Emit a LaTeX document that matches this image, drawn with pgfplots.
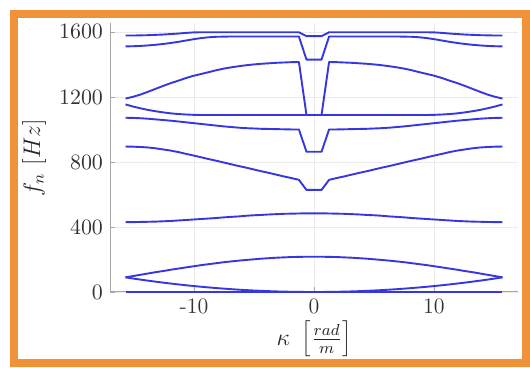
\documentclass[border=0pt]{standalone}
\usepackage{pgfplots}
\usepackage{pgfplotstable}
\pgfplotsset{compat=1.18}

\definecolor{framecol}{RGB}{240,146,58}
\definecolor{branch}{RGB}{55,55,225}

% Dispersion branches f_n(kappa), kappa in [-5pi, 5pi]
\pgfplotstableread{
kappa    a0  a1    a2   a3   a4   a5    a6    a7    a8    a9
-15.708  0   90.0  90   430  895  1072  1154  1190  1511  1578
-15.080  0   83.0  98   430  894  1071  1141  1201  1512  1578
-14.451  0   76.2  106  431  892  1069  1130  1215  1514  1579
-13.823  0   69.7  114  432  889  1066  1120  1232  1517  1580
-13.195  0   63.5  122  433  884  1062  1112  1250  1521  1582
-12.566  0   57.6  129  435  877  1058  1105  1268  1526  1584
-11.938  0   52.0  137  437  870  1054  1099  1285  1532  1587
-11.310  0   46.7  144  440  861  1049  1095  1300  1539  1590
-10.681  0   41.6  151  443  850  1044  1092  1316  1547  1594
-10.053  0   36.9  158  446  840  1039  1090  1330  1555  1597
-9.425   0   32.4  165  449  829  1034  1089  1341  1562  1598
-8.796   0   28.2  171  452  818  1029  1089  1352  1567  1598
-8.168   0   24.4  177  455  808  1024  1089  1364  1570  1598
-7.540   0   20.8  183  459  797  1019  1089  1374  1571  1598
-6.912   0   17.4  188  462  786  1015  1089  1382  1572  1598
-6.283   0   14.4  193  465  775  1011  1089  1389  1572  1598
-5.655   0   11.7  197  469  765  1008  1089  1395  1572  1598
-5.027   0   9.2   201  472  754  1006  1089  1400  1572  1598
-4.398   0   7.1   205  474  743  1004  1089  1404  1572  1598
-3.770   0   5.2   208  477  733  1003  1089  1407  1572  1598
-3.142   0   3.6   211  479  722  1002  1089  1410  1572  1598
-2.513   0   2.3   213  481  711  1001  1089  1412  1572  1598
-1.885   0   1.3   215  482  701  1000  1089  1414  1572  1598
-1.257   0   0.6   216  483  690  1000  1089  1415  1572  1598
-0.628   0   0.1   217  484  628  863   1089  1089  1430  1574
0.000    0   0.0   217  484  628  863   1089  1089  1430  1574
0.628    0   0.1   217  484  628  863   1089  1089  1430  1574
1.257    0   0.6   216  483  690  1000  1089  1415  1572  1598
1.885    0   1.3   215  482  701  1000  1089  1414  1572  1598
2.513    0   2.3   213  481  711  1001  1089  1412  1572  1598
3.142    0   3.6   211  479  722  1002  1089  1410  1572  1598
3.770    0   5.2   208  477  733  1003  1089  1407  1572  1598
4.398    0   7.1   205  474  743  1004  1089  1404  1572  1598
5.027    0   9.2   201  472  754  1006  1089  1400  1572  1598
5.655    0   11.7  197  469  765  1008  1089  1395  1572  1598
6.283    0   14.4  193  465  775  1011  1089  1389  1572  1598
6.912    0   17.4  188  462  786  1015  1089  1382  1572  1598
7.540    0   20.8  183  459  797  1019  1089  1374  1571  1598
8.168    0   24.4  177  455  808  1024  1089  1364  1570  1598
8.796    0   28.2  171  452  818  1029  1089  1352  1567  1598
9.425    0   32.4  165  449  829  1034  1089  1341  1562  1598
10.053   0   36.9  158  446  840  1039  1090  1330  1555  1597
10.681   0   41.6  151  443  850  1044  1092  1316  1547  1594
11.310   0   46.7  144  440  861  1049  1095  1300  1539  1590
11.938   0   52.0  137  437  870  1054  1099  1285  1532  1587
12.566   0   57.6  129  435  877  1058  1105  1268  1526  1584
13.195   0   63.5  122  433  884  1062  1112  1250  1521  1582
13.823   0   69.7  114  432  889  1066  1120  1232  1517  1580
14.451   0   76.2  106  431  892  1069  1130  1215  1514  1579
15.080   0   83.0  98   430  894  1071  1141  1201  1512  1578
15.708   0   90.0  90   430  895  1072  1154  1190  1511  1578
}\branches

\begin{document}
\begin{tikzpicture}
\begin{axis}[
  at={(55pt,38pt)}, anchor=south west,
  scale only axis, width=204pt, height=134.5pt,
  xmin=-17, xmax=17, ymin=0, ymax=1655,
  axis lines=left,
  axis line style={-, draw=black!35, line width=0.5pt},
  xtick={-10,0,10}, xticklabels={-10,0,10},
  ytick={0,400,800,1200,1600},
  yticklabel style={/pgf/number format/1000 sep={}},
  tick align=inside, major tick length=2.5pt,
  tick style={draw=black!35, line width=0.4pt},
  grid=major,
  major grid style={draw=black!8, line width=0.4pt},
  tick label style={font=\fontsize{11}{13}\selectfont, text=black!80},
  label style={font=\fontsize{12}{14}\selectfont, text=black!85},
  xlabel={$\kappa\ \left[\frac{rad}{m}\right]$},
  ylabel={$f_n\ [Hz]$},
  xlabel style={at={(axis description cs:0.5,-0.175)}, anchor=center},
  ylabel style={at={(axis description cs:-0.186,0.5)}, anchor=center},
  bline/.style={draw=branch, line width=0.95pt, line join=round, no marks},
  clip=false,
]
\addplot[bline] table[x=kappa, y=a0] {\branches};
\addplot[bline] table[x=kappa, y=a1] {\branches};
\addplot[bline] table[x=kappa, y=a2] {\branches};
\addplot[bline] table[x=kappa, y=a3] {\branches};
\addplot[bline] table[x=kappa, y=a4] {\branches};
\addplot[bline] table[x=kappa, y=a5] {\branches};
\addplot[bline] table[x=kappa, y=a6] {\branches};
\addplot[bline] table[x=kappa, y=a7] {\branches};
\addplot[bline] table[x=kappa, y=a8] {\branches};
\addplot[bline] table[x=kappa, y=a9] {\branches};
\end{axis}
% surrounding frame
\draw[framecol, line width=4pt] (7pt,2.5pt) rectangle (263pt,177pt);
\pgfresetboundingbox
\useasboundingbox (0,0) rectangle (265pt,184pt);
\end{tikzpicture}
\end{document}
